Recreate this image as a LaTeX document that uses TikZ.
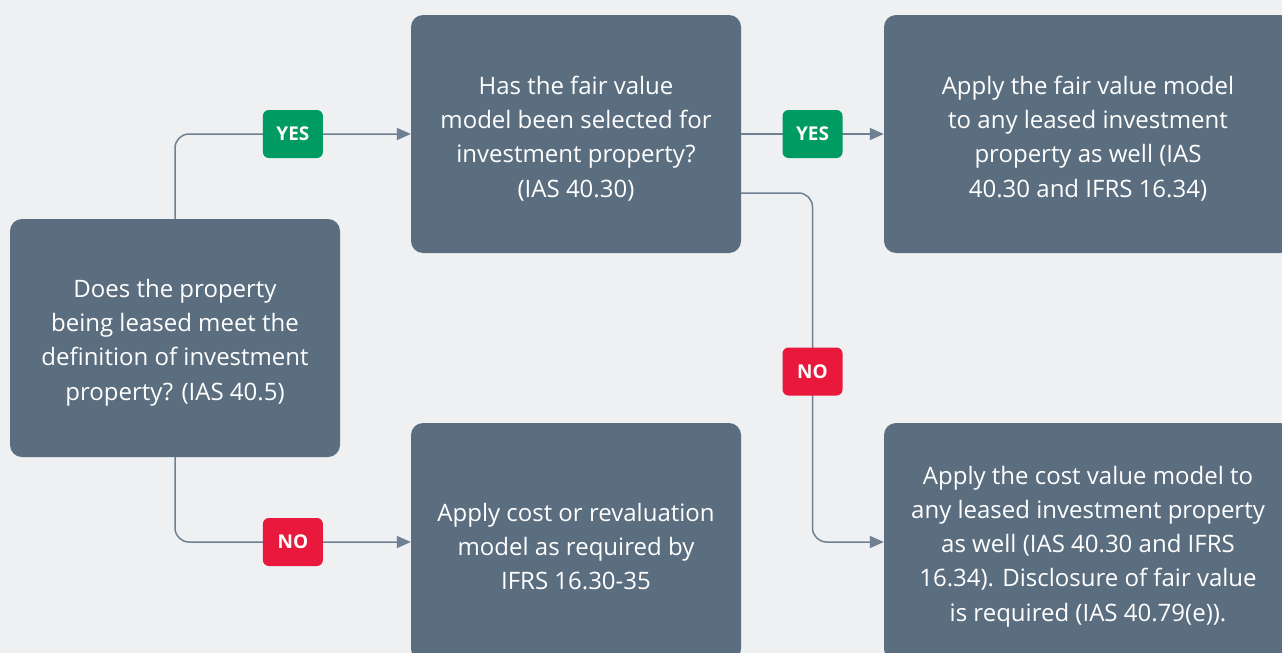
\documentclass[tikz,border=0pt]{standalone}
\usepackage{fontspec}
\setmainfont{Open Sans}
\usetikzlibrary{arrows.meta,calc}
\definecolor{bg}{HTML}{EEF0F2}
\definecolor{boxc}{HTML}{5B6E80}
\definecolor{linec}{HTML}{6E8092}
\definecolor{yesc}{HTML}{009A63}
\definecolor{noc}{HTML}{E8193C}
\newcommand\firststrut{\rule{0pt}{27pt}}
\tikzset{
  box/.style={fill=boxc, rounded corners=12pt, minimum height=238pt, text=white,
    align=center, inner sep=0pt, font=\fontsize{24}{34.3}\selectfont},
  conn/.style={draw=linec, line width=1.5pt, rounded corners=14pt,
    -{Triangle[length=14pt,width=12pt]}},
  badge/.style={rounded corners=6pt, minimum width=60pt, minimum height=48pt,
    inner sep=0pt, text=white, font=\fontsize{19}{22}\selectfont\bfseries},
  yesb/.style={badge, fill=yesc},
  nob/.style={badge, fill=noc},
}
\begin{document}
\begin{tikzpicture}[x=1pt,y=-1pt]
\fill[bg] (0,0) rectangle (1282,653);
\useasboundingbox (0,0) rectangle (1282,653);
\begin{scope}
\clip (0,0) rectangle (1282,653);
\node[box, minimum width=330pt] (A) at (175,338) {\firststrut Does the property\\being leased meet the\\definition of investment\\property? (IAS 40.5)};
\node[box, minimum width=330pt] (B) at (576,134) {\firststrut Has the fair value\\model been selected for\\investment property?\\(IAS 40.30)};
\node[box, minimum width=408pt] (C) at (1088,134) {\firststrut Apply the fair value model\\to any leased investment\\property as well (IAS\\40.30 and IFRS 16.34)};
\node[box, minimum width=330pt] (D) at (576,542) {\firststrut Apply cost or revaluation\\model as required by\\IFRS 16.30-35};
\node[box, minimum width=408pt] (E) at (1088,542) {\firststrut Apply the cost value model to\\any leased investment property\\as well (IAS 40.30 and IFRS\\16.34). Disclosure of fair value\\is required (IAS 40.79(e)).};
\coordinate (bo) at ([yshift=-59pt]B.east);
\coordinate (mid) at ($(bo)!0.5!(E.west)$);
\draw[conn] (A.north) |- (B.west);
\draw[conn] (A.south) |- (D.west);
\draw[conn] (B.east) -- (C.west);
\draw[conn] (bo) -| (mid) |- (E.west);
\node[yesb] (y1) at ($(A.north |- B.west)!0.5!(B.west)$) {YES};
\node[nob] (n1) at ($(A.south |- D.west)!0.5!(D.west)$) {NO};
\node[yesb] (y2) at ($(B.east)!0.5!(C.west)$) {YES};
\node[nob] (n2) at ([yshift=-4pt]mid) {NO};
\end{scope}
\end{tikzpicture}
\end{document}
